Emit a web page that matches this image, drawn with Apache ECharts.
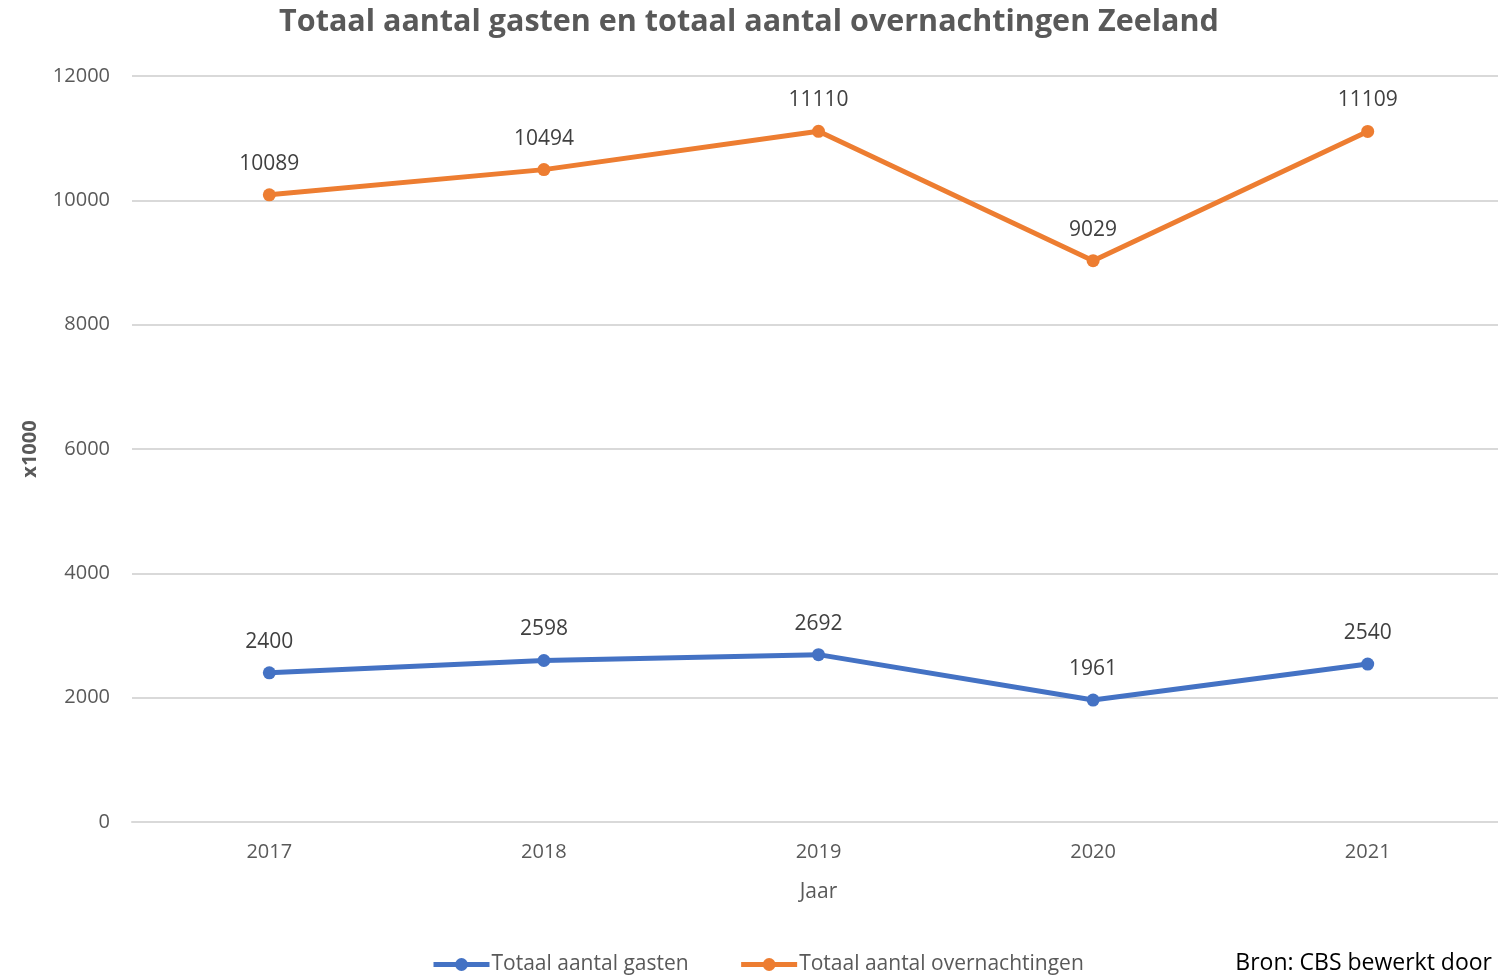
<!DOCTYPE html>
<html>
<head>
<meta charset="utf-8">
<script src="https://cdn.jsdelivr.net/npm/echarts@6/dist/echarts.min.js"></script>
<style>
    html, body { margin: 0; padding: 0; background: #fff; }
    #chart { width: 1498px; height: 975px; }
</style>
</head>
<body>
<div id="chart"></div>
<script>
// 数据
const years = ['2017', '2018', '2019', '2020', '2021'];
const gasten = [2400, 2598, 2692, 1961, 2540];
const overnachtingen = [10089, 10494, 11110, 9029, 11109];
const yTicks = [0, 2000, 4000, 6000, 8000, 10000, 12000];

const font = '"Open Sans", "Noto Sans", sans-serif';
const grey = '#595959';

const chart = echarts.init(document.getElementById('chart'));

const labelStyle = {
    show: true,
    position: 'top',
    distance: 14,
    color: '#404040',
    fontSize: 21,
    fontFamily: font
};

const option = {
    animation: false,
    title: {
        text: 'Totaal aantal gasten en totaal aantal overnachtingen Zeeland',
        left: 'center',
        top: 2,
        textStyle: {
            color: grey,
            fontSize: 30.5,
            fontWeight: 'bold',
            fontFamily: font
        }
    },
    legend: {
        bottom: -5,
        left: 426,
        itemWidth: 56,
        itemHeight: 16,
        itemGap: 50,
        lineStyle: { width: 5 },
        textStyle: { color: grey, fontSize: 21, fontFamily: font, padding: [0, 0, 0, -3] },
        data: ['Totaal aantal gasten', 'Totaal aantal overnachtingen']
    },
    graphic: [{
        type: 'text',
        right: 6,
        bottom: 0,
        style: {
            text: 'Bron: CBS bewerkt door',
            fill: '#000',
            fontSize: 23,
            fontFamily: font
        }
    }],
    grid: {
        left: 132,
        right: -7,
        top: 76,
        bottom: 153,
        outerBoundsMode: 'none'
    },
    xAxis: {
        type: 'category',
        data: years,
        name: 'Jaar',
        nameLocation: 'middle',
        nameGap: 60,
        nameTextStyle: { color: grey, fontSize: 21, fontFamily: font },
        axisLine: { lineStyle: { color: '#d9d9d9', width: 2 } },
        axisTick: { show: false },
        axisLabel: { color: grey, fontSize: 20, fontFamily: font, margin: 20 }
    },
    yAxis: {
        type: 'value',
        min: yTicks[0],
        max: yTicks[yTicks.length - 1],
        interval: 2000,
        name: 'x1000',
        nameLocation: 'middle',
        nameGap: 92,
        nameTextStyle: { color: grey, fontSize: 20, fontWeight: 'bold', fontFamily: font },
        axisLine: { show: false },
        axisTick: { show: false },
        axisLabel: {
            color: grey, fontSize: 20, fontFamily: font, margin: 22,
            formatter: function(v) { return String(v); }
        },
        splitLine: { lineStyle: { color: '#d9d9d9', width: 2 } }
    },
    series: [
        {
            name: 'Totaal aantal gasten',
            type: 'line',
            data: gasten,
            color: '#4472C4',
            symbol: 'circle',
            symbolSize: 13,
            lineStyle: { width: 5 },
            label: labelStyle
        },
        {
            name: 'Totaal aantal overnachtingen',
            type: 'line',
            data: overnachtingen,
            color: '#ED7D31',
            symbol: 'circle',
            symbolSize: 13,
            lineStyle: { width: 5 },
            label: labelStyle
        }
    ]
};

chart.setOption(option);

window.addEventListener('resize', function() {
    chart.resize();
});
</script>
</body>
</html>
